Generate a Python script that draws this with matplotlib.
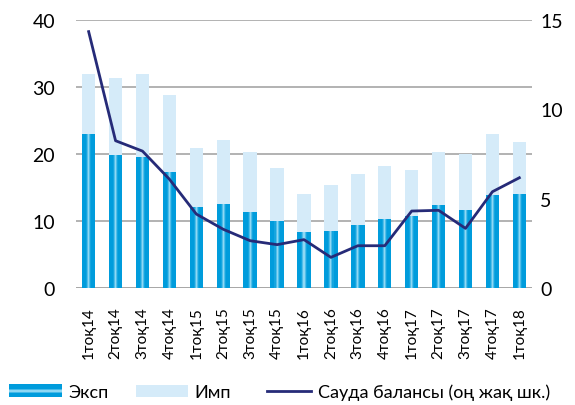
import matplotlib
matplotlib.use("Agg")
import matplotlib.pyplot as plt
import numpy as np
from matplotlib.patches import Patch, Rectangle
from matplotlib.lines import Line2D
from matplotlib.legend_handler import HandlerBase

categories = ["1тоқ14", "2тоқ14", "3тоқ14", "4тоқ14", "1тоқ15", "2тоқ15", "3тоқ15", "4тоқ15",
              "1тоқ16", "2тоқ16", "3тоқ16", "4тоқ16", "1тоқ17", "2тоқ17", "3тоқ17", "4тоқ17", "1тоқ18"]
export = [23.0, 19.8, 19.6, 17.35, 12.1, 12.6, 11.4, 10.1, 8.36, 8.6, 9.5, 10.35, 10.8, 12.4, 11.7, 13.9, 14.0]
total = [32.0, 31.4, 32.0, 28.85, 20.9, 22.1, 20.3, 17.95, 14.1, 15.4, 17.05, 18.25, 17.65, 20.3, 20.0, 23.0, 21.8]
imports = [t - e for t, e in zip(total, export)]
balance = [14.35, 8.25, 7.67, 6.1, 4.15, 3.3, 2.66, 2.44, 2.72, 1.73, 2.38, 2.38, 4.32, 4.36, 3.35, 5.4, 6.18]

plt.rcParams['font.family'] = ['Lato', 'DejaVu Sans']

DARK = np.array([0x00, 0x9c, 0xdc]) / 255
LIGHT = np.array([0x8e, 0xd8, 0xf4]) / 255
IMP_C = "#d5ebf9"
LINE_C = "#262b78"


def grad_color(t):
    f = max(0.0, 1 - abs(t - 0.5) / 0.18)
    return DARK * (1 - f) + LIGHT * f


class GradHandler(HandlerBase):
    def create_artists(self, legend, orig, xd, yd, width, height, fontsize, trans):
        arts = []
        n = 11
        for i in range(n):
            t = (i + 0.5) / n
            r = Rectangle((-xd, -yd + height * i / n), width, height / n + 0.3,
                          facecolor=grad_color(t), edgecolor="none", transform=trans)
            arts.append(r)
        return arts


class ShortLineHandler(HandlerBase):
    def create_artists(self, legend, orig, xd, yd, width, height, fontsize, trans):
        y = -yd + height / 2
        ln = Line2D([-xd + width * 0.17, -xd + width], [y, y], color=LINE_C, linewidth=2,
                    transform=trans)
        return [ln]


fig = plt.figure(figsize=(5.75, 4.06), dpi=100)
ax = fig.add_axes([76/575, 1-289.3/406, (532-76)/575, (289.3-21)/406])
x = np.arange(len(categories))
w = 0.5

ax.bar(x, imports, w, bottom=export, color=IMP_C, zorder=2)
nstrip = 13
for i in range(nstrip):
    t = (i + 0.5) / nstrip
    ax.bar(x - w/2 + i * w/nstrip, export, w/nstrip, align="edge", color=grad_color(t),
           zorder=3, linewidth=0)

ax.set_xlim(-0.47, 16.47)
ax.set_ylim(0, 40)
ax.set_yticks([0, 10, 20, 30, 40])
ax.grid(axis="y", color="#a6a6a6", linewidth=1.2, zorder=0)
ax.set_axisbelow(True)
for s in ax.spines.values():
    s.set_visible(False)
ax.axhline(0, color="#a6a6a6", linewidth=1.2, zorder=1)
ax.set_xticks(x)
ax.set_xticklabels(categories, rotation=90, fontsize=11)
ax.tick_params(axis="both", length=0)
ax.tick_params(axis="y", labelsize=14, pad=15)
ax.tick_params(axis="x", pad=13)

ax2 = ax.twinx()
ax2.plot(x, balance, color=LINE_C, linewidth=2, zorder=5)
ax2.set_ylim(0, 15)
ax2.set_yticks([0, 5, 10, 15])
ax2.tick_params(axis="y", length=0, labelsize=14, pad=6)
for s in ax2.spines.values():
    s.set_visible(False)

h_exp = Patch(facecolor="#00a0e0")
h_imp = Patch(facecolor=IMP_C)
h_bal = Line2D([0], [0], color=LINE_C, linewidth=2)
labels = ["Эксп", "Имп", "Сауда балансы (оң жақ шк.)"]
fig.legend([h_exp, h_imp, h_bal], labels, loc="center left", bbox_to_anchor=(9/575, 13/406),
           ncol=3, frameon=False, fontsize=13, handlelength=2.93, handleheight=0.68,
           columnspacing=1.5, handletextpad=0.35, borderpad=0, borderaxespad=0,
           handler_map={h_exp: GradHandler(), h_bal: ShortLineHandler()})

fig.savefig("out.png", dpi=100)
